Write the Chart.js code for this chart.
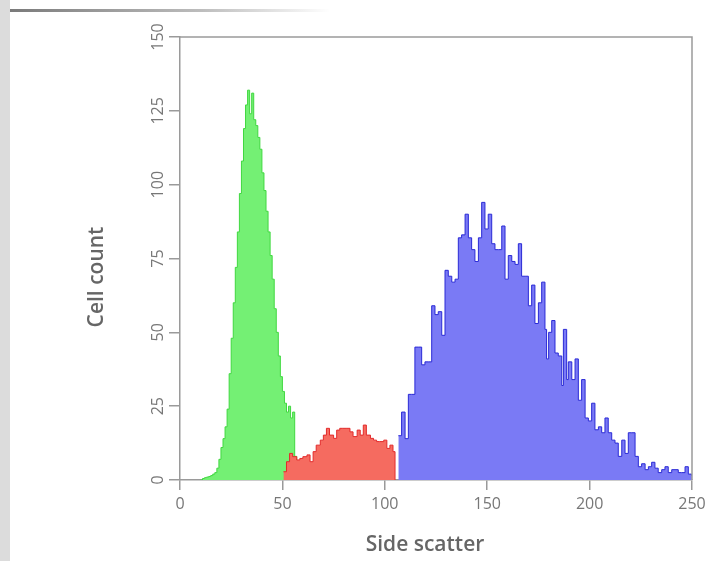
<!DOCTYPE html>
<html>
<head>
<meta charset="utf-8">
<script src="https://cdn.jsdelivr.net/npm/chart.js@4"></script>
<style>
  html, body { margin: 0; padding: 0; background: #fff; }
  #wrap { position: relative; width: 713px; height: 561px; overflow: hidden; }
  #band { position: absolute; left: 0; top: 0; width: 10px; height: 561px; background: #dcdcdc; }
  #topline { position: absolute; left: 10px; top: 9px; width: 320px; height: 3px;
    background: linear-gradient(to right, #7a7a7a, #bdbdbd 60%, rgba(255,255,255,0)); }
  #chart { position: absolute; left: 0; top: 0; }
</style>
</head>
<body>
<div id="wrap">
  <div id="band"></div>
  <div id="topline"></div>
  <canvas id="chart" width="713" height="561"></canvas>
</div>
<script>
// side scatter channel -> cell count
const greenX = [10, 11, 12, 13, 14, 15, 16, 17, 18, 19, 20, 21, 22, 23, 24, 25, 26, 27, 28, 29,
  30, 31, 32, 33, 34, 35, 36, 37, 38, 39, 40, 41, 42, 43, 44, 45, 46, 47, 48, 49,
  50, 51, 52, 53, 54, 55, 56, 57];
const greenY = [0, 0.5, 0.8, 1, 1.2, 1.5, 2, 2.5, 4, 7, 11, 14, 18, 24, 36, 48, 60, 72, 84, 97,
  108, 119, 127, 132, 124, 131, 122, 120, 116, 112, 104, 98, 91, 84, 76, 68, 58, 50, 42, 35,
  30, 26, 23, 25, 21, 23, 8, 0];

const redX = [50.5, 52, 53.5, 55, 57, 58.5, 60, 62, 63.5, 65, 66.5, 68.5, 70, 71.5, 73, 75, 76.5,
  78, 79.5, 81.5, 83, 84.5, 86.5, 88, 89.5, 91, 93, 94.5, 96, 97.5, 99.5, 101, 102.5, 104, 105];
const redY = [2.8, 6.2, 9, 7.9, 6.8, 7.3, 7.9, 8.5, 6.2, 9.6, 11.8, 13.5, 15.2, 17.5, 15.2, 14.1, 16.9,
  17.5, 17.5, 17.5, 16.3, 14.7, 16.9, 15.2, 18.6, 15.2, 14.1, 13.5, 13, 13, 13.5, 10.7, 11.8, 9.6, 0];

const blueX = [106.6, 108.2, 109.9, 111.5, 113.1, 114.7, 116.4, 118, 119.6, 121.2, 122.9, 124.5,
  126.1, 127.8, 129.4, 131, 132.7, 134.3, 135.9, 137.5, 139.2, 140.8, 142.4, 144, 145.7, 147.3,
  148.9, 150.5, 152.2, 153.8, 155.4, 157.1, 158.7, 160.3, 162, 163.6, 165.2, 166.8, 168.5, 170.1,
  171.7, 173.3, 175, 176.6, 178.2, 179, 180, 181.5, 183.1, 184.7, 186.4, 187.2, 188.8, 189.6,
  191.3, 192.9, 194.5, 196.1, 197.8, 199.4, 201, 202.6, 204.3, 205.9, 207.5, 209.1, 210.8, 212.4,
  214, 215.7, 217.3, 218.9, 220.6, 222.2, 223.8, 225.4, 227.1, 228.7, 230.3, 231.9, 233.5, 235.2,
  236.8, 238.4, 240.1, 241.7, 243.3, 244.9, 246.6, 248.2, 249.8, 250];
const blueY = [15, 23, 14, 29, 29, 45, 45, 39, 40, 40, 59, 56,
  57, 49, 71, 69, 67, 68, 82, 83, 90, 82, 78, 74, 82, 94,
  85, 90, 80, 78, 78, 86, 68, 76, 74, 73, 80, 69, 69, 59,
  66, 53, 60, 67, 51, 41, 50, 54, 43, 42, 32, 51, 34, 40,
  34, 41, 27, 34, 21, 20, 26, 17, 18, 16, 21, 16, 13.5, 12.5,
  8, 13.5, 9, 16, 16, 8, 4.5, 5.5, 3.5, 4.5, 6, 4, 2.5, 3.5,
  4.5, 2.5, 3.5, 3.5, 2.5, 2.5, 4.5, 2, 1.5, 1.5];

const xTicks = [0, 50, 100, 150, 200, 250];
const yTicks = [0, 25, 50, 75, 100, 125, 150];
const xTitle = 'Side scatter';
const yTitle = 'Cell count';

const axisGrey = '#9a9a9a';
const labelGrey = '#777';

const pts = (xs, ys) => xs.map((x, i) => ({ x, y: ys[i] }));

function histo(xs, ys, fill, line) {
  return {
    data: pts(xs, ys),
    backgroundColor: fill,
    borderColor: line,
    borderWidth: 1,
    fill: 'origin',
    stepped: true,
    pointRadius: 0,
    tension: 0
  };
}

// top/right frame plus the two axis titles
const framePlugin = {
  id: 'frame',
  afterDraw(chart) {
    const { ctx, chartArea: a } = chart;
    ctx.save();
    ctx.strokeStyle = axisGrey;
    ctx.lineWidth = 1.5;
    ctx.beginPath();
    ctx.moveTo(a.left, a.top);
    ctx.lineTo(a.right, a.top);
    ctx.lineTo(a.right, a.bottom);
    ctx.stroke();

    ctx.fillStyle = '#666';
    ctx.font = '600 21px "Open Sans"';
    ctx.textAlign = 'center';
    ctx.textBaseline = 'middle';
    ctx.fillText(xTitle, a.left + 245, a.bottom + 65);
    ctx.translate(a.left - 83, a.top + 240);
    ctx.rotate(-Math.PI / 2);
    ctx.fillText(yTitle, 0, 0);
    ctx.restore();
  }
};

new Chart(document.getElementById('chart'), {
  type: 'line',
  data: {
    datasets: [
      histo(redX, redY, '#f56b60', '#e32b2b'),
      histo(greenX, greenY, '#74f074', '#40d840'),
      histo(blueX, blueY, '#7a7af5', '#2a2ad6')
    ]
  },
  options: {
    responsive: false,
    animation: false,
    layout: { padding: { left: 0, top: 37, right: 21, bottom: 0 } },
    plugins: { legend: { display: false }, tooltip: { enabled: false } },
    scales: {
      x: {
        type: 'linear',
        min: 0,
        max: 250,
        afterFit: s => { s.height = 81; },
        afterBuildTicks: s => { s.ticks = xTicks.map(v => ({ value: v })); },
        grid: { display: true, drawOnChartArea: false, drawTicks: true, tickLength: 10, color: axisGrey, lineWidth: 1.5 },
        border: { display: true, color: axisGrey, width: 1.5 },
        ticks: { color: labelGrey, padding: 5, font: { family: 'Open Sans', size: 16 }, maxRotation: 0 }
      },
      y: {
        min: 0,
        max: 150,
        afterFit: s => { s.width = 180; },
        afterBuildTicks: s => { s.ticks = yTicks.map(v => ({ value: v })); },
        grid: { display: true, drawOnChartArea: false, drawTicks: true, tickLength: 11, color: axisGrey, lineWidth: 1.5 },
        border: { display: true, color: axisGrey, width: 1.5 },
        ticks: { color: labelGrey, padding: -3, crossAlign: 'center', minRotation: 90, maxRotation: 90,
          font: { family: 'Open Sans', size: 16 } }
      }
    }
  },
  plugins: [framePlugin]
});
</script>
</body>
</html>
